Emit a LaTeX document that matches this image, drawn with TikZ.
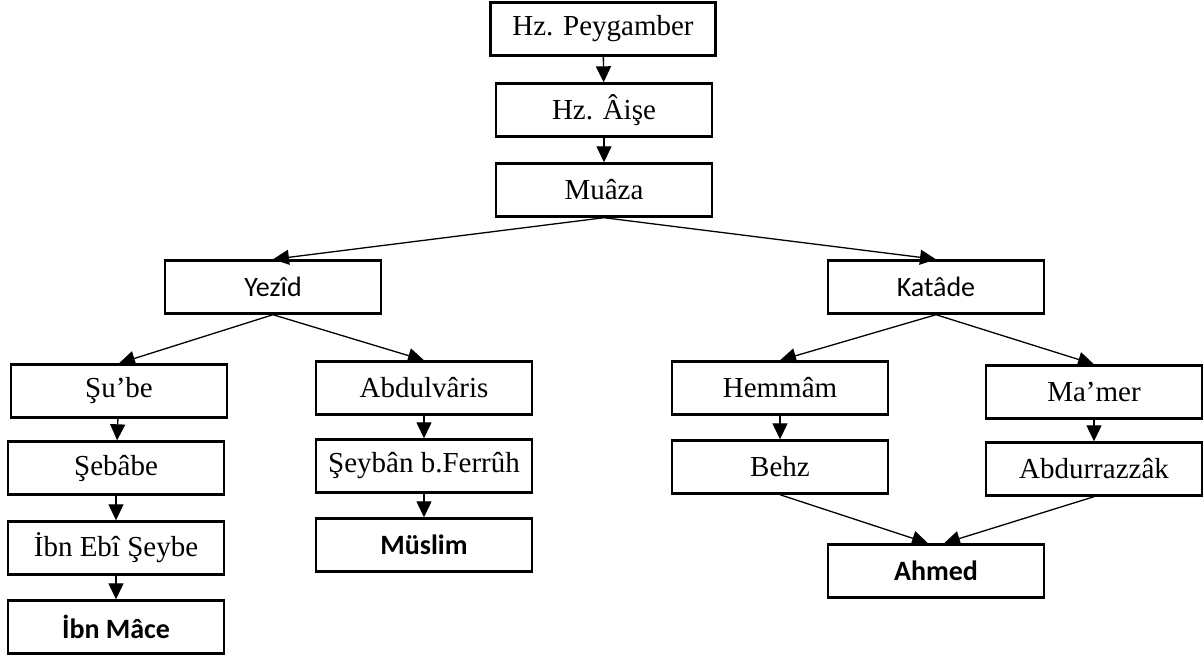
\documentclass[tikz,border=0pt]{standalone}
\usepackage{fontspec}
\setmainfont{Liberation Serif}
\newfontfamily\calibri{Carlito}
\usetikzlibrary{arrows.meta}

\begin{document}
\begin{tikzpicture}[x=1pt,y=-1pt]
\tikzstyle{box}=[draw,line width=2.4pt,minimum width=216pt,minimum height=53pt,inner sep=0pt,font=\fontsize{29}{31}\selectfont]
\tikzstyle{sbox}=[box,font=\calibri\fontsize{28}{30}\selectfont]
\tikzstyle{bbox}=[box,font=\calibri\bfseries\fontsize{28}{30}\selectfont]
\tikzstyle{link}=[line width=1.3pt,-{Triangle[length=16pt,width=15pt]}]
\useasboundingbox (0,0) rectangle (1203,657);

\path (603,29) node[box,minimum width=225pt](peyg){Hz. Peygamber}
      (604,110) node[box](aise){Hz. Âişe}
      (604,190) node[box](muaza){Muâza};
\draw[link] (peyg) -- (aise);
\draw[link] (aise) -- (muaza);

\path (273,287) node[sbox](yezid){Yezîd}
      (936,287) node[sbox](katade){Katâde};
\draw[link] (muaza.south) -- (yezid.north);
\draw[link] (muaza.south) -- (katade.north);

\path (119,391) node[box](sube){Şu’be}
      (116,468) node[box](sebabe){Şebâbe}
      (116,548) node[box](ibnebi){İbn Ebî Şeybe}
      (116,627) node[bbox](ibnmace){İbn Mâce};
\draw[link] (yezid.south) -- (sube.north);
\draw[link] (sube) -- (sebabe);
\draw[link] (sebabe) -- (ibnebi);
\draw[link] (ibnebi) -- (ibnmace);

\path (424,388) node[box](abdulvaris){Abdulvâris}
      (424,466) node[box](seyban){Şeybân b.Ferrûh}
      (424,545) node[bbox](muslim){Müslim};
\draw[link] (yezid.south) -- (abdulvaris.north);
\draw[link] (abdulvaris) -- (seyban);
\draw[link] (seyban) -- (muslim);

\path (780,388) node[box](hemmam){Hemmâm}
      (780,467) node[box](behz){Behz};
\draw[link] (katade.south) -- (hemmam.north);
\draw[link] (hemmam) -- (behz);

\path (1094,392) node[box](mamer){Ma’mer}
      (1094,469) node[box](abdurrazzak){Abdurrazzâk};
\draw[link] (katade.south) -- (mamer.north);
\draw[link] (mamer) -- (abdurrazzak);

\path (936,571) node[bbox](ahmed){Ahmed};
\draw[link] (behz.south) -- ([xshift=-8pt]ahmed.north);
\draw[link] (abdurrazzak.south) -- ([xshift=8pt]ahmed.north);
\end{tikzpicture}
\end{document}
